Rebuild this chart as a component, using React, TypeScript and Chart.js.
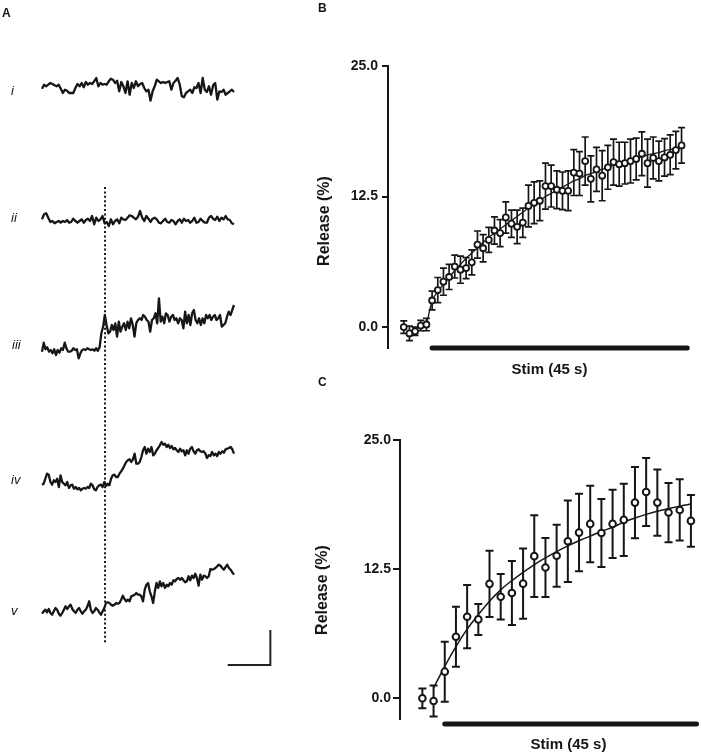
import React, { useEffect, useRef } from "react";
import { Chart, registerables } from "chart.js";
Chart.register(...registerables);

const FONT = "'Liberation Sans', Arial, Helvetica, sans-serif";
const INK = "#161616";

// ---------- Panel A: example traces (amplitude in a.u.) ----------
const TRACE_NAMES = ["i", "ii", "iii", "iv", "v"];
const TRACE_I = [-0.7, 3.3, 1.7, 3.3, 5, 4, 2.7, 1.7, 3.3, -0.7, -5, -1.7, -2.7, -5, -5, -5, 0, 4, 1.7, 5, 0.7, 6, 3.3, 5, 4, 6.7, 10, 1.7, 5, 3.3, 4, 3.3, 6.7, 9.3, 8.3, 5, 7.3, -3.3, 6, 1.7, -5, 6.7, -6.7, 5, 0, 6.7, 1.7, 4, 5, 0, -3.3, -1.7, -12.7, -3.3, 1.7, 8.3, 6.7, 5, 6, 5, 6, 6.7, -1.7, 5, 7.3, 10, 3.3, -8.3, -9.3, -5, -3.3, -1.7, -5, 0.7, 0, 5, -5, 10, -1.7, -4, 1.7, -6.7, 2.7, 5, -11.7, -3.3, -4, -1.7, -6.7, -5, -3.3, -1.7, -4];
const TRACE_II = [1.7, 6.7, 7.7, 3.3, -1, 0, -2.3, -1, 0, -1.7, 0, -1, 1, -1.7, -1, 2.3, 0, -1.7, 0, 1.7, -1.7, 1, 2.3, 0, 5, -3.3, 3.3, 0, 1.7, 5, -2.3, -1, -5, 1.7, -3.3, 0, 1.7, -2.3, 3.3, 1.7, 1, 3.3, 5.7, 5, 3.3, 1.7, 4.3, 10, 3.3, 0, 5, 2.3, -1, 2.3, 3.3, 1.7, -1.7, -2.3, 0, 2.3, -1, -1.7, 1, 0, -3.3, 0, 1.7, -1.7, 2.3, 0, 1, -1.7, 0, 3.3, -1.7, -1, 2.3, 0, -1.7, -1.7, 3.3, 5, 2.3, 1, 4.3, 0, 3.3, 1.7, 5, 1.7, 1, -2.3, -3.3];
const TRACE_III = [-1.7, 7.3, 0.7, 2.7, -1.7, 0, -3.3, 0.7, -5, 0, -2.7, 1.7, 0, 7.3, 1.7, -1.7, -1.7, -0.7, 1.7, 0, 0.7, -8.3, -3.3, 0, 0.7, 0, 1.7, 0.7, 0, 0.7, -0.7, 1.7, -0.7, 2.7, 16.7, 23.3, 35, 25, 16.7, 18.3, 25, 20, 26.7, 13.3, 28.3, 18.3, 23.3, 26.7, 20, 28.3, 21.7, 31.7, 25, 13.3, 26.7, 30, 31.7, 30, 35, 33.3, 30, 28.3, 18.3, 30, 31.7, 36.7, 26.7, 51.7, 28.3, 33.3, 26.7, 36.7, 35, 28.3, 33.3, 35, 30, 31.7, 26.7, 31.7, 30, 21.7, 38.3, 26.7, 35, 25, 36.7, 40, 30, 26.7, 31.7, 25, 31.7, 26.7, 35, 31.7, 35, 30, 33.3, 35, 30, 31.7, 35, 23.3, 25, 26.7, 33.3, 38.3, 35, 40, 45];
const TRACE_IV = [2.3, 3.3, 8.3, 13.3, 12.3, 5, 2.3, 6.7, 5, 8.3, 0, 11.7, 5, 3.3, 1.7, 5, -1, 1.7, 2.3, -1.7, 0, -2.3, -1, -3.3, -1.7, -1, -1.7, 0, -1, 3.3, 1.7, -2.3, -3.3, 0, 1.7, 2.3, 0, 5, 1, 3.3, 1.7, 8.3, 11.7, 12.3, 10, 10, 13.3, 15.7, 18.3, 21.7, 25, 26.7, 27.7, 25, 27.7, 33.3, 23.3, 23.3, 25, 30, 36.7, 40, 33.3, 38.3, 35, 40, 31.7, 33.3, 36.7, 39, 41.7, 45, 42.3, 43.3, 40, 42.3, 39, 41, 37.7, 39, 36.7, 35, 38.3, 35.7, 36.7, 31.7, 36.7, 33.3, 38.3, 40, 35.7, 33.3, 36.7, 37.7, 35.7, 35, 35.7, 33.3, 29, 31.7, 31, 35, 31.7, 33.3, 31, 35, 33.3, 35.7, 34.3, 37.7, 38.3, 39, 40, 37.7, 33.3];
const TRACE_V = [-0.7, 1.7, 3.3, 0.7, 4, 0, -1.7, 1.7, 5, 3.3, -0.7, -2.7, 0, 3.3, 6.7, 4, 6.7, 8.3, 4, 1.7, 0, 3.3, 5, 1.7, -0.7, 1.7, 3.3, 6.7, 11.7, 3.3, 0, 1.7, 5, 3.3, 0.7, -1.7, 1.7, 5, 10, 10.7, 10, 8.3, 7.3, 8.3, 10, 9.3, 10, 13.3, 17.3, 14, 11.7, 13.3, 11.7, 16.7, 17.3, 18.3, 20, 18.3, 18.3, 16.7, 11.7, 23.3, 28.3, 30, 21.7, 16.7, 10, 21.7, 30, 25, 31.7, 26.7, 30, 25, 28.3, 26.7, 30, 28.3, 32.7, 31.7, 34, 35, 33.3, 35, 32.7, 30.7, 31.7, 36.7, 32.7, 37.3, 35, 39.3, 35, 27.3, 38.3, 33.3, 37.3, 36.7, 35, 36.7, 44, 43.3, 44, 45, 46.7, 48.3, 47.3, 45, 43.3, 46, 48.3, 45, 43.3, 40.7, 38.3];
const TRACE_DURATION_S = 45;
const STIM_ONSET_S = 14.77;
const SCALE_BAR_S = 10;
const SCALE_BAR_AU = 35;

// ---------- Panel B ----------
const B_TIME = [-5, -4, -3, -2, -1, 0, 1, 2, 3, 4, 5, 6, 7, 8, 9, 10, 11, 12, 13, 14, 15, 16, 17, 18, 19, 20, 21, 22, 23, 24, 25, 26, 27, 28, 29, 30, 31, 32, 33, 34, 35, 36, 37, 38, 39, 40, 41, 42, 43, 44];
const B_MEAN = [0.0, -0.6, -0.4, 0.15, 0.25, 2.55, 3.55, 4.35, 4.8, 5.8, 5.5, 5.65, 6.2, 7.9, 7.55, 8.35, 9.25, 9.0, 10.5, 9.9, 9.6, 10.0, 11.6, 11.9, 12.1, 13.5, 13.5, 13.15, 13.05, 13.05, 14.8, 14.7, 15.9, 14.2, 15.1, 14.5, 15.3, 15.8, 15.6, 15.7, 15.9, 16.1, 16.6, 15.7, 16.2, 15.9, 16.25, 16.5, 16.95, 17.4];
const B_SEM = [0.6, 0.7, 0.4, 0.5, 0.6, 0.9, 1.2, 1.3, 1.2, 1.1, 1.3, 1.0, 1.2, 1.3, 1.3, 1.2, 1.3, 1.3, 1.5, 1.3, 1.6, 1.4, 2.0, 2.0, 1.9, 2.2, 2.0, 1.8, 1.8, 1.9, 2.2, 2.1, 2.3, 2.2, 2.1, 2.4, 2.1, 2.2, 2.1, 2.0, 2.1, 2.0, 2.1, 2.3, 2.0, 1.9, 1.8, 1.9, 1.8, 1.7];
const B_FIT_START = -1;
const B_FIT = [0.2, 2.5, 3.4, 4.1, 4.8, 5.4, 6.0, 6.6, 7.1, 7.6, 8.1, 8.6, 9.0, 9.4, 9.8, 10.2, 10.6, 11.0, 11.4, 11.8, 12.1, 12.5, 12.8, 13.1, 13.4, 13.7, 14.0, 14.2, 14.5, 14.7, 14.9, 15.1, 15.3, 15.5, 15.7, 15.9, 16.0, 16.2, 16.3, 16.5, 16.6, 16.7, 16.9, 17.0, 17.1, 17.3];

// ---------- Panel C ----------
const C_TIME = [-4, -2, 0, 2, 4, 6, 8, 10, 12, 14, 16, 18, 20, 22, 24, 26, 28, 30, 32, 34, 36, 38, 40, 42, 44];
const C_MEAN = [0.0, -0.26, 2.58, 5.96, 7.9, 7.64, 11.08, 9.83, 10.2, 11.1, 13.76, 12.66, 13.8, 15.2, 16.04, 16.88, 16.0, 16.88, 17.27, 18.94, 19.97, 18.94, 17.98, 18.23, 17.17];
const C_SEM = [0.95, 1.5, 2.9, 2.9, 3.06, 1.5, 3.2, 2.2, 3.1, 3.4, 3.95, 2.85, 3.0, 3.95, 3.75, 3.7, 3.3, 3.3, 3.5, 3.45, 3.3, 3.2, 2.87, 2.96, 2.5];
const C_FIT_START = -2;
const C_FIT = [1.0, 3.1, 5.0, 6.7, 8.1, 9.4, 10.5, 11.4, 12.2, 12.95, 13.6, 14.2, 14.75, 15.25, 15.7, 16.15, 16.55, 17.05, 17.45, 17.8, 18.1, 18.35, 18.6, 18.8];

// shared
const Y_TICKS = [0, 12.5, 25];
const STIM_S = [0, 45];
const STIM_LABEL = "Stim (45 s)";
const Y_TITLE = "Release (%)";

// ---------- layout constants (page pixels) ----------
const A_TRACE_LEFT = 42;
const A_TRACE_WIDTH = 192;
const A_CANVAS_W = 300;
const A_CANVAS_H = 755;
const TRACE_ROW_Y = [88, 221, 350, 487, 613];
const DOT_TOP_Y = 187;
const DOT_BOTTOM_Y = 643;
const SCALE_BAR_X0_S = 43.52;
const SCALE_BAR_Y = 665;

const errorBarPlugin = {
  id: "errorBars",
  beforeDatasetDraw(chart: any, args: any) {
    const ds = chart.data.datasets[args.index];
    if (!ds.errors) return;
    const ys = chart.scales.y;
    const ctx = chart.ctx;
    ctx.save();
    ctx.strokeStyle = INK;
    ctx.lineWidth = ds.errorLineWidth;
    ctx.lineCap = "butt";
    const cap = ds.capHalf;
    args.meta.data.forEach((pt: any, i: number) => {
      const v = ds.data[i].y;
      const e = ds.errors[i];
      const yt = ys.getPixelForValue(v + e);
      const yb = ys.getPixelForValue(v - e);
      const x = pt.x;
      ctx.beginPath();
      ctx.moveTo(x, yt);
      ctx.lineTo(x, yb);
      ctx.moveTo(x - cap, yt);
      ctx.lineTo(x + cap, yt);
      ctx.moveTo(x - cap, yb);
      ctx.lineTo(x + cap, yb);
      ctx.stroke();
    });
    ctx.restore();
  },
};

function makeDecor(p: any) {
  return {
    id: "decor",
    afterDraw(chart: any) {
      const { ctx, chartArea, scales } = chart;
      const xs = scales.x;
      ctx.save();
      ctx.strokeStyle = INK;
      ctx.lineWidth = 5;
      ctx.lineCap = "round";
      const yb = chartArea.bottom + p.barDy;
      ctx.beginPath();
      ctx.moveTo(xs.getPixelForValue(STIM_S[0]), yb);
      ctx.lineTo(xs.getPixelForValue(STIM_S[1]), yb);
      ctx.stroke();
      ctx.fillStyle = INK;
      ctx.textAlign = "center";
      ctx.textBaseline = "middle";
      ctx.font = `bold 15px ${FONT}`;
      ctx.fillText(STIM_LABEL, p.stimLabelX, p.stimLabelY);
      ctx.translate(p.titleX, p.titleY);
      ctx.rotate(-Math.PI / 2);
      ctx.font = `bold 16px ${FONT}`;
      ctx.fillText(Y_TITLE, 0, 0);
      ctx.restore();
    },
  };
}

function buildTraces() {
  const traces = [TRACE_I, TRACE_II, TRACE_III, TRACE_IV, TRACE_V];
  const pxPerS = A_TRACE_WIDTH / TRACE_DURATION_S;
  const datasets: any[] = traces.map((vals, k) => ({
    label: TRACE_NAMES[k],
    data: vals.map((v, j) => ({ x: (j * TRACE_DURATION_S) / (vals.length - 1), y: TRACE_ROW_Y[k] - v })),
    borderColor: INK,
    borderWidth: 2.3,
    borderJoinStyle: "round",
    pointRadius: 0,
    tension: 0,
    fill: false,
  }));
  datasets.push({
    label: "onset",
    data: [
      { x: STIM_ONSET_S, y: DOT_TOP_Y },
      { x: STIM_ONSET_S, y: DOT_BOTTOM_Y },
    ],
    borderColor: INK,
    borderWidth: 2,
    borderDash: [2, 2.4],
    pointRadius: 0,
  });
  datasets.push({
    label: "scale",
    data: [
      { x: SCALE_BAR_X0_S, y: SCALE_BAR_Y },
      { x: SCALE_BAR_X0_S + SCALE_BAR_S, y: SCALE_BAR_Y },
      { x: SCALE_BAR_X0_S + SCALE_BAR_S, y: SCALE_BAR_Y - SCALE_BAR_AU },
    ],
    borderColor: "#222",
    borderWidth: 2,
    pointRadius: 0,
    borderJoinStyle: "miter",
  });
  return {
    type: "line",
    data: { datasets },
    options: {
      animation: false,
      responsive: false,
      events: [],
      layout: { padding: 0 },
      plugins: { legend: { display: false }, tooltip: { enabled: false } },
      scales: {
        x: { type: "linear", display: false, min: -A_TRACE_LEFT / pxPerS, max: (A_CANVAS_W - A_TRACE_LEFT) / pxPerS },
        y: { type: "linear", display: false, reverse: true, min: 0, max: A_CANVAS_H },
      },
    },
  };
}

function buildPanel(p: any) {
  const fitTimes = p.time.filter((t: number) => t >= p.fitStart);
  return {
    type: "line",
    data: {
      datasets: [
        {
          label: "mean",
          data: p.mean.map((v: number, i: number) => ({ x: p.time[i], y: v })),
          errors: p.sem,
          errorLineWidth: p.errW,
          capHalf: p.capHalf,
          showLine: false,
          pointRadius: p.r,
          pointBorderWidth: p.pbw,
          pointBackgroundColor: "#ffffff",
          pointBorderColor: INK,
          order: 0,
          clip: false,
        },
        {
          label: "fit",
          data: p.fit.map((v: number, i: number) => ({ x: fitTimes[i], y: v })),
          borderColor: INK,
          borderWidth: p.fitW,
          pointRadius: 0,
          cubicInterpolationMode: "monotone",
          order: 1,
          clip: false,
        },
      ],
    },
    options: {
      animation: false,
      responsive: false,
      events: [],
      layout: { padding: { left: 0, right: 1, top: p.padTop, bottom: p.padBottom } },
      plugins: { legend: { display: false }, tooltip: { enabled: false } },
      scales: {
        x: { type: "linear", display: false, min: p.xMin, max: p.xMax },
        y: {
          type: "linear",
          min: -2,
          max: 25,
          afterBuildTicks: (s: any) => {
            s.ticks = Y_TICKS.map((v) => ({ value: v }));
          },
          afterFit: (s: any) => {
            s.width = p.axisW;
          },
          grid: { display: true, drawOnChartArea: false, drawTicks: true, tickLength: p.tickLen, color: INK, lineWidth: 2 },
          border: { display: true, color: INK, width: 2 },
          ticks: {
            color: INK,
            padding: p.tickPad,
            font: { family: FONT, size: 14, weight: "bold" },
            callback: (v: any) => Number(v).toFixed(1),
          },
        },
      },
    },
    plugins: [errorBarPlugin, makeDecor(p.decor)],
  };
}

function ChartCanvas({ build, left, top, width, height }: any) {
  const ref = useRef<HTMLCanvasElement>(null);
  useEffect(() => {
    const chart = new Chart(ref.current as HTMLCanvasElement, build() as any);
    return () => chart.destroy();
  }, []);
  return <canvas ref={ref} width={width} height={height} style={{ position: "absolute", left, top, width, height }} />;
}

const labelBase: any = { position: "absolute", fontFamily: FONT, color: INK, lineHeight: "13px", whiteSpace: "nowrap" };

export default function App() {
  const romanTops = [83.6, 210.6, 338, 473, 604];
  const romanLefts = [11, 11, 12, 11, 11];
  return (
    <div style={{ position: "absolute", left: 0, top: 0, width: 701, height: 755, background: "#fff", overflow: "hidden" }}>
      <ChartCanvas build={buildTraces} left={0} top={0} width={A_CANVAS_W} height={A_CANVAS_H} />
      <ChartCanvas
        left={300}
        top={40}
        width={401}
        height={345}
        build={() =>
          buildPanel({
            time: B_TIME, mean: B_MEAN, sem: B_SEM, fit: B_FIT, fitStart: B_FIT_START,
            r: 3, pbw: 1.8, errW: 1.7, capHalf: 3.5, fitW: 1.3,
            padTop: 26, padBottom: 37, xMin: -7.78, xMax: 46.41, axisW: 88, tickLen: 6, tickPad: 4,
            decor: { barDy: 0, stimLabelX: 249.5, stimLabelY: 330, titleX: 25, titleY: 181 },
          })
        }
      />
      <ChartCanvas
        left={300}
        top={395}
        width={401}
        height={360}
        build={() =>
          buildPanel({
            time: C_TIME, mean: C_MEAN, sem: C_SEM, fit: C_FIT, fitStart: C_FIT_START,
            r: 3.3, pbw: 2, errW: 2, capHalf: 4, fitW: 1.5,
            padTop: 45, padBottom: 36, xMin: -8.0, xMax: 44.73, axisW: 100, tickLen: 7, tickPad: 2,
            decor: { barDy: 5, stimLabelX: 268.5, stimLabelY: 350, titleX: 23, titleY: 195 },
          })
        }
      />
      <div style={{ ...labelBase, left: 2, top: 7, fontSize: 12, fontWeight: "bold", lineHeight: "12px" }}>A</div>
      <div style={{ ...labelBase, left: 318, top: 2, fontSize: 12, fontWeight: "bold", lineHeight: "12px" }}>B</div>
      <div style={{ ...labelBase, left: 318, top: 376, fontSize: 12, fontWeight: "bold", lineHeight: "12px" }}>C</div>
      {TRACE_NAMES.map((n, k) => (
        <div key={n} style={{ ...labelBase, left: romanLefts[k], top: romanTops[k], fontSize: 13, fontStyle: "italic" }}>
          {n}
        </div>
      ))}
    </div>
  );
}
